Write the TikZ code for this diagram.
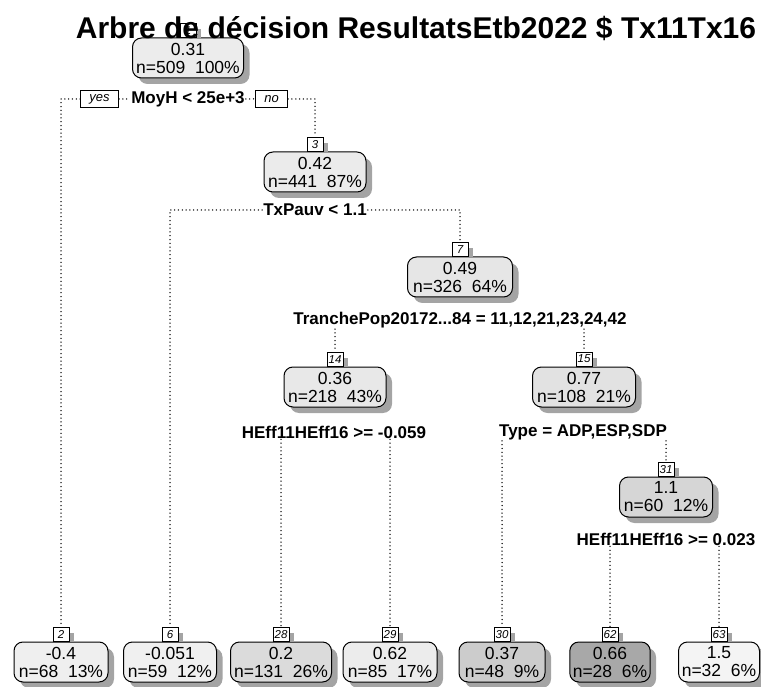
\documentclass[tikz,border=0pt]{standalone}
\usepackage{fontspec}
\setmainfont{Liberation Sans}
\usetikzlibrary{positioning}

\begin{document}
\begin{tikzpicture}[x=1pt,y=-1pt,
  tnode/.style={draw,line width=1pt,rounded corners=9pt,align=center,
    inner xsep=3pt,inner ysep=2pt,minimum height=40pt,
    font=\fontsize{17.5}{18}\selectfont},
  numbox/.style={draw,fill=white,line width=0.8pt,inner sep=1pt,
    minimum width=16pt,minimum height=14pt,anchor=south,
    font=\fontsize{11.5}{11.5}\selectfont\itshape},
  split/.style={fill=white,inner sep=1pt,font=\fontsize{17}{17}\selectfont\bfseries},
  yesno/.style={draw,fill=white,line width=0.8pt,inner xsep=9pt,minimum height=17pt,
    font=\fontsize{13}{13}\selectfont\itshape},
  link/.style={line width=1.5pt,dash pattern=on 0pt off 3.8pt,line cap=round}]
\definecolor{shadowgray}{HTML}{A4A4A4}
\definecolor{c1}{HTML}{ECECEC}
\definecolor{c3}{HTML}{EBEBEB}
\definecolor{c7}{HTML}{E6E6E6}
\definecolor{c14}{HTML}{E8E8E8}
\definecolor{c15}{HTML}{E2E2E2}
\definecolor{c31}{HTML}{D6D6D6}
\definecolor{c2}{HTML}{EFEFEF}
\definecolor{c6}{HTML}{F0F0F0}
\definecolor{c28}{HTML}{DBDBDB}
\definecolor{c29}{HTML}{ECECEC}
\definecolor{c30}{HTML}{CCCCCC}
\definecolor{c62}{HTML}{A8A8A8}
\definecolor{c63}{HTML}{F4F4F4}

\useasboundingbox (0,0) rectangle (761,687);

% Tree nodes: shadow, rounded box, then the small number label on top.
\foreach \k/\x/\y/\w/\col/\val/\cnt in {
    1/188/58/111/c1/0.31/n=509~~100\%,
    3/315/172/102/c3/0.42/n=441~~87\%,
    7/460/277/105/c7/0.49/n=326~~64\%,
    14/335/387/102/c14/0.36/n=218~~43\%,
    15/584/387/103/c15/0.77/n=108~~21\%,
    31/666/497/93/c31/1.1/n=60~~12\%,
    2/61/662/94/c2/-0.4/n=68~~13\%,
    6/170/662/93/c6/-0.051/n=59~~12\%,
    28/281/662/101/c28/0.2/n=131~~26\%,
    29/390/662/94/c29/0.62/n=85~~17\%,
    30/502/662/86/c30/0.37/n=48~~9\%,
    62/610/662/80/c62/0.66/n=28~~6\%,
    63/719/662/81/c63/1.5/n=32~~6\%} {
  \fill[shadowgray,rounded corners=9pt]
    ({\x-\w/2+6},{\y-14}) rectangle ({\x+\w/2+6},{\y+26});
  \node[tnode,fill=\col,minimum width={\w*1pt}] (n\k) at (\x,\y) {\val\\\cnt};
  \fill[shadowgray] ({\x-3},{\y-29}) rectangle ({\x+13},{\y-20});
  \node[numbox] (l\k) at (n\k.north) {\k};
}

% Split rules.
\node[split] (s1) at (188,99) {MoyH < 25e+3};
\node[yesno,left=11pt of s1] (yes) {yes};
\node[yesno,right=9pt of s1] (no) {no};
\node[split] (s3) at (315,210) {TxPauv < 1.1};
\node[split] (s7) at (460,320) {TranchePop20172...84 = 11,12,21,23,24,42};
\node[split] (s14) at (334,432) {HEff11HEff16 >= -0.059};
\node[split] (s15) at (583,432) {Type = ADP,ESP,SDP};
\node[split] (s31) at (666,539) {HEff11HEff16 >= 0.023};

% Dotted branches.
\draw[link] (yes.west) -| (l2.north);
\draw[link] (yes.east) -- (s1.west);
\draw[link] (s1.east) -- (no.west);
\draw[link] (no.east) -| (l3.north);
\draw[link] (s3.west) -| (l6.north);
\draw[link] (s3.east) -| (l7.north);
\draw[link] (s7.south -| l14.north) -- (l14.north);
\draw[link] (s7.south -| l15.north) -- (l15.north);
\draw[link] (s14.south -| l28.north) -- (l28.north);
\draw[link] (s14.south -| l29.north) -- (l29.north);
\draw[link] (s15.south -| l30.north) -- (l30.north);
\draw[link] (s15.south -| l31.north) -- (l31.north);
\draw[link] (s31.south -| l62.north) -- (l62.north);
\draw[link] (s31.south -| l63.north) -- (l63.north);

% Title, drawn last so it lies over the root label.
\node[font=\fontsize{30}{30}\selectfont\bfseries] (title) at (416,28)
  {Arbre de décision ResultatsEtb2022 \$ Tx11Tx16};
\end{tikzpicture}
\end{document}
